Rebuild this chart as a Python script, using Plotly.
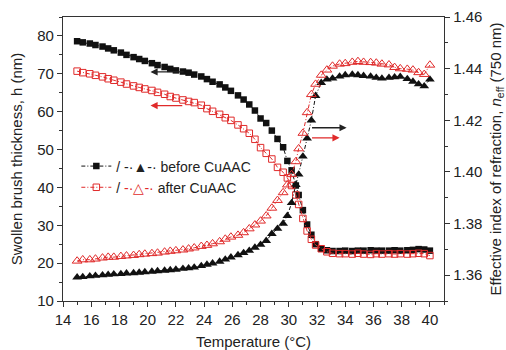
import plotly.graph_objects as go

# Temperature (°C)
temp = [15.0, 15.4, 15.9, 16.3, 16.8, 17.2, 17.6, 18.1, 18.5, 19.0, 19.4, 19.8, 20.3, 20.7,
        21.2, 21.6, 22.0, 22.5, 22.9, 23.3, 23.8, 24.2, 24.6, 25.1, 25.5, 25.9, 26.4, 26.8,
        27.2, 27.6, 28.0, 28.4, 28.8, 29.2, 29.6, 29.9, 30.2, 30.5, 30.7, 31.0, 31.3, 31.6,
        31.9, 32.3, 32.7, 33.1, 33.6, 34.0, 34.5, 34.9, 35.3, 35.8, 36.2, 36.6, 37.1, 37.5,
        37.9, 38.4, 38.8, 39.2, 39.6, 40.0]

# Swollen brush thickness h (nm)
h_before = [78.6, 78.3, 78.0, 77.6, 77.2, 76.7, 76.2, 75.6, 75.0, 74.4, 73.9, 73.4, 72.8, 72.3,
            71.8, 71.3, 70.9, 70.6, 70.3, 69.8, 69.3, 68.6, 67.9, 67.2, 66.4, 65.5, 64.3, 63.2,
            61.9, 60.3, 58.2, 57.0, 55.0, 52.8, 50.6, 47.0, 44.5, 40.5, 38.0, 34.0, 30.2, 27.5,
            25.0, 23.8, 23.4, 23.2, 23.2, 23.3, 23.2, 23.3, 23.3, 23.4, 23.3, 23.3, 23.3, 23.4,
            23.3, 23.4, 23.5, 23.7, 23.6, 23.3]
h_after = [70.7, 70.3, 70.0, 69.6, 69.2, 68.7, 68.3, 67.8, 67.3, 66.8, 66.4, 66.0, 65.6, 65.1,
           64.6, 64.0, 63.6, 63.1, 62.7, 62.4, 61.7, 60.8, 60.1, 59.3, 58.4, 57.7, 56.5, 55.5,
           54.3, 52.7, 50.5, 49.0, 47.5, 45.3, 44.0, 42.5, 40.5, 38.0, 35.5, 31.8, 28.5, 26.3,
           24.8, 23.8, 23.0, 22.6, 22.5, 22.5, 22.4, 22.6, 22.4, 22.3, 22.5, 22.4, 22.5, 22.4,
           22.5, 22.4, 22.5, 22.6, 22.5, 22.0]

# Effective index of refraction n_eff (750 nm)
n_before = [1.3592, 1.3593, 1.3596, 1.3598, 1.3600, 1.3602, 1.3604, 1.3605, 1.3607, 1.3608,
            1.3610, 1.3612, 1.3614, 1.3616, 1.3618, 1.3620, 1.3622, 1.3625, 1.3627, 1.3630,
            1.3636, 1.3641, 1.3646, 1.3653, 1.3661, 1.3669, 1.3678, 1.3686, 1.3695, 1.3707,
            1.3718, 1.3733, 1.3760, 1.3780, 1.3800, 1.3830, 1.3880, 1.3950, 1.3990, 1.4060,
            1.4130, 1.4200, 1.4295, 1.4345, 1.4358, 1.4362, 1.4370, 1.4375, 1.4377, 1.4375,
            1.4372, 1.4370, 1.4365, 1.4362, 1.4365, 1.4367, 1.4369, 1.4360, 1.4350, 1.4340,
            1.4332, 1.4358]
n_after = [1.3655, 1.3660, 1.3660, 1.3663, 1.3667, 1.3670, 1.3670, 1.3673, 1.3675, 1.3677,
           1.3680, 1.3682, 1.3684, 1.3686, 1.3690, 1.3693, 1.3695, 1.3698, 1.3702, 1.3706,
           1.3712, 1.3716, 1.3722, 1.3730, 1.3740, 1.3748, 1.3755, 1.3765, 1.3780, 1.3795,
           1.3810, 1.3830, 1.3860, 1.3890, 1.3920, 1.3950, 1.3990, 1.4040, 1.4090, 1.4150,
           1.4230, 1.4300, 1.4340, 1.4375, 1.4395, 1.4410, 1.4418, 1.4420, 1.4425, 1.4428,
           1.4425, 1.4424, 1.4422, 1.4418, 1.4415, 1.4405, 1.4400, 1.4398, 1.4395, 1.4385,
           1.4378, 1.4414]

# Arrow annotations: (x_tail, x_head, y)
arrows_left = [(22.8, 20.2, 70.5, "black"), (22.7, 20.2, 61.6, "red")]
arrows_right = [(31.4, 34.1, 1.4171, "black"), (31.4, 33.6, 1.4132, "red")]

BLACK = "#111111"
RED = "#e02a2a"
FONT = "Liberation Sans, Arial, sans-serif"
DASH = "4px,2px,1px,2px"

fig = go.Figure()
fig.add_trace(go.Scatter(
    x=temp, y=h_before, mode="lines+markers", yaxis="y",
    name="/ -·▲-· before CuAAC",
    line=dict(color=BLACK, width=1, dash=DASH),
    marker=dict(symbol="square", size=6.5, color=BLACK)))
fig.add_trace(go.Scatter(
    x=temp, y=h_after, mode="lines+markers", yaxis="y",
    name="/ <span style='color:%s'>-·△-·</span> after CuAAC" % RED,
    line=dict(color=RED, width=1, dash=DASH),
    marker=dict(symbol="square-open", size=6.5, color=RED, line=dict(width=1))))
fig.add_trace(go.Scatter(
    x=temp, y=n_before, mode="lines+markers", yaxis="y2", showlegend=False,
    line=dict(color=BLACK, width=1, dash=DASH),
    marker=dict(symbol="triangle-up", size=8.5, color=BLACK)))
fig.add_trace(go.Scatter(
    x=temp, y=n_after, mode="lines+markers", yaxis="y2", showlegend=False,
    line=dict(color=RED, width=1, dash=DASH),
    marker=dict(symbol="triangle-up-open", size=8.5, color=RED, line=dict(width=1))))

col = {"black": "#222222", "red": RED}
for x0, x1, yv, c in arrows_left:
    fig.add_annotation(x=x1, y=yv, ax=x0, ay=yv, xref="x", yref="y", axref="x", ayref="y",
                       showarrow=True, arrowhead=2, arrowsize=1.1, arrowwidth=1.3,
                       arrowcolor=col[c], text=" ")
for x0, x1, yv, c in arrows_right:
    fig.add_annotation(x=x1, y=yv, ax=x0, ay=yv, xref="x", yref="y2", axref="x", ayref="y2",
                       showarrow=True, arrowhead=2, arrowsize=1.1, arrowwidth=1.3,
                       arrowcolor=col[c], text=" ")

axis_common = dict(showline=True, linecolor="#333333", linewidth=1.3, ticks="outside",
                   ticklen=5, tickwidth=1.2, tickcolor="#333333", showgrid=False,
                   zeroline=False, automargin=False,
                   tickfont=dict(size=15, color="#222222", family=FONT))

fig.update_layout(
    width=506, height=350,
    margin=dict(l=63, r=62, t=17, b=49, autoexpand=False),
    paper_bgcolor="white", plot_bgcolor="white",
    font=dict(family=FONT, size=15, color="#222222"),
    xaxis=dict(range=[14, 41], dtick=2, tick0=14, mirror=True,
               minor=dict(dtick=1, ticklen=3, ticks="outside", tickcolor="#333333"),
               title=dict(text="Temperature (°C)", standoff=12, font=dict(size=15)),
               **axis_common),
    yaxis=dict(range=[10, 85], dtick=10, tick0=10,
               minor=dict(dtick=5, ticklen=3, ticks="outside", tickcolor="#333333"),
               title=dict(text="Swollen brush thickness, h (nm)", standoff=10,
                          font=dict(size=15)),
               **axis_common),
    yaxis2=dict(range=[1.35, 1.46], dtick=0.02, tick0=1.36, overlaying="y", side="right",
                tickformat=".2f",
                minor=dict(dtick=0.01, ticklen=3, ticks="outside", tickcolor="#333333"),
                title=dict(text="Effective index of refraction, <i>n</i><sub>eff</sub> (750 nm)",
                           standoff=12, font=dict(size=15)),
                **axis_common),
    showlegend=True,
    legend=dict(x=0.035, y=0.53, xanchor="left", yanchor="top", bgcolor="rgba(0,0,0,0)",
                font=dict(size=14, family=FONT, color="#222222"), itemwidth=30,
                tracegroupgap=0),
)

fig.write_html("out.html")
